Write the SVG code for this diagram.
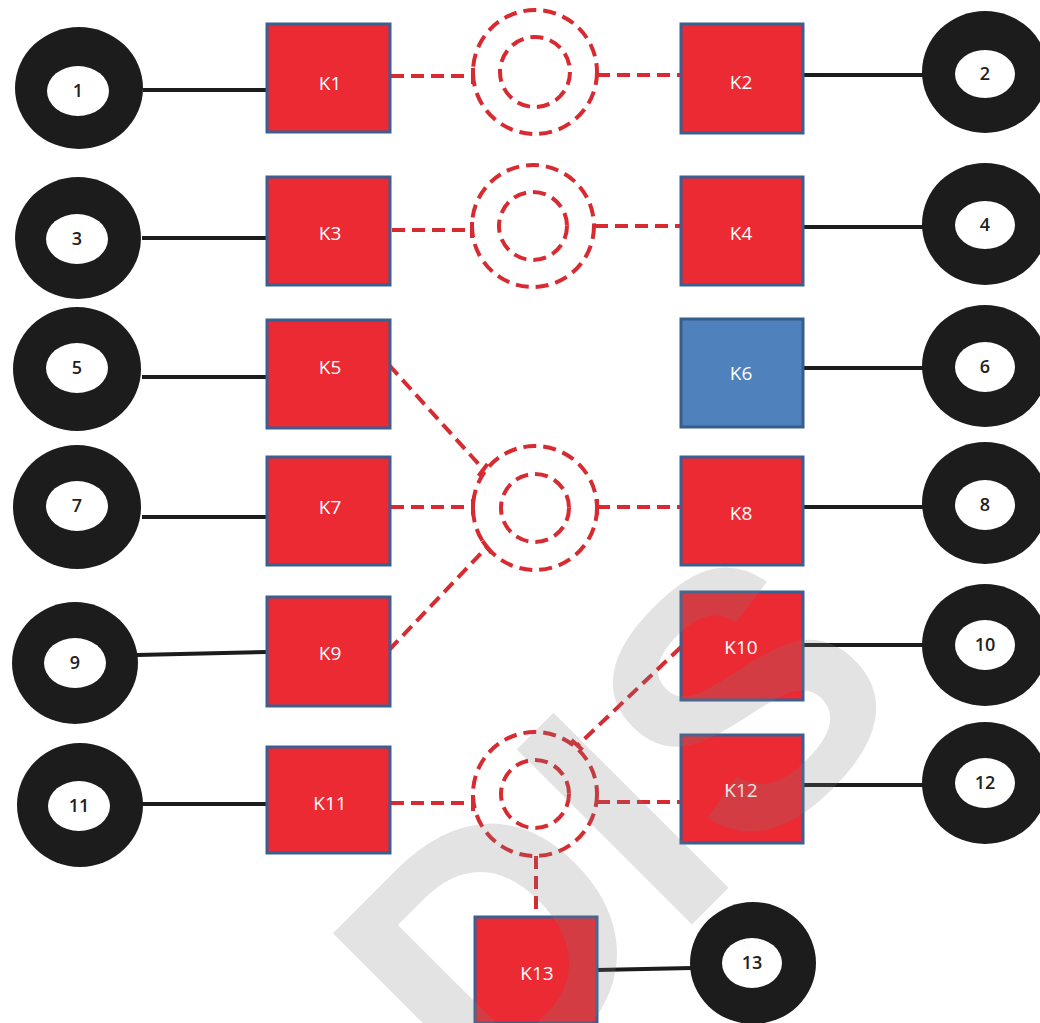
<svg xmlns="http://www.w3.org/2000/svg" width="1040" height="1023" viewBox="0 0 1040 1023">
<style>
.box{fill:#ec2a33;stroke:#3a5f92;stroke-width:3}
.blue{fill:#4f81bd;stroke:#385d8a;stroke-width:3}
.kl{font-family:"Open Sans","Liberation Sans",sans-serif;font-size:19px;fill:#fff;text-anchor:middle}
.ring{fill:#1c1c1c}
.hole{fill:#fff}
.nl{font-family:"Open Sans","Liberation Sans",sans-serif;font-size:18px;font-weight:600;fill:#222;text-anchor:middle}
.solid{stroke:#1c1c1c;stroke-width:4;fill:none}
.dash{stroke:#d82a31;stroke-width:4;stroke-dasharray:13 7;fill:none}
.tick{stroke:#d82a31;stroke-width:4;fill:none}
.wm{font-family:"Liberation Sans",sans-serif;font-weight:bold;font-size:360px;fill:#808080;fill-opacity:0.22;text-anchor:middle}
</style>
<rect width="1040" height="1023" fill="#fff"/>
<g id="connectors">
<line class="solid" x1="143" y1="90" x2="267" y2="90"/>
<line class="solid" x1="142" y1="238" x2="267" y2="238"/>
<line class="solid" x1="142" y1="377" x2="267" y2="377"/>
<line class="solid" x1="142" y1="517" x2="267" y2="517"/>
<line class="solid" x1="137" y1="655" x2="267" y2="652"/>
<line class="solid" x1="142" y1="804" x2="267" y2="804"/>
<line class="solid" x1="803" y1="75" x2="924" y2="75"/>
<line class="solid" x1="803" y1="227" x2="924" y2="227"/>
<line class="solid" x1="803" y1="368" x2="924" y2="368"/>
<line class="solid" x1="803" y1="507" x2="924" y2="507"/>
<line class="solid" x1="803" y1="645" x2="924" y2="645"/>
<line class="solid" x1="803" y1="785" x2="924" y2="785"/>
<line class="solid" x1="597" y1="970" x2="692" y2="968"/>
<line class="dash" x1="391" y1="76" x2="473" y2="76"/>
<line class="dash" x1="597" y1="75" x2="681" y2="75"/>
<line class="dash" x1="392" y1="230" x2="471" y2="230"/>
<line class="dash" x1="595" y1="226" x2="680" y2="226"/>
<line class="dash" x1="389" y1="365" x2="484" y2="470"/>
<line class="dash" x1="391" y1="507" x2="473" y2="507"/>
<line class="dash" x1="389" y1="650" x2="486" y2="548"/>
<line class="dash" x1="597" y1="507" x2="681" y2="507"/>
<line class="dash" x1="681" y1="647" x2="577" y2="746"/>
<line class="dash" x1="391" y1="803" x2="473" y2="803"/>
<line class="dash" x1="597" y1="802" x2="681" y2="802"/>
<line class="dash" x1="536" y1="856" x2="536" y2="916"/>
<line class="tick" x1="473" y1="68" x2="473" y2="84"/>
<line class="tick" x1="472" y1="222" x2="472" y2="238"/>
<line class="tick" x1="473" y1="499" x2="473" y2="515"/>
<line class="tick" x1="597" y1="499" x2="597" y2="515"/>
<line class="tick" x1="487.5" y1="464" x2="478.5" y2="476"/>
<line class="tick" x1="491.5" y1="553" x2="482.5" y2="541"/>
<line class="tick" x1="473" y1="795" x2="473" y2="811"/>
<line class="tick" x1="582.5" y1="750" x2="571.5" y2="740"/>
</g>
<g id="hub1"><circle class="dash" cx="535" cy="72" r="62"/><circle class="dash" cx="535" cy="72" r="35"/></g>
<g id="hub2"><circle class="dash" cx="533" cy="226" r="61"/><circle class="dash" cx="533" cy="226" r="34"/></g>
<g id="hub3"><circle class="dash" cx="535" cy="508" r="62"/><circle class="dash" cx="535" cy="508" r="34"/></g>
<g id="hub4"><circle class="dash" cx="535" cy="794" r="62"/><circle class="dash" cx="535" cy="794" r="34"/></g>
<g id="K1"><rect class="box" x="267" y="24" width="123" height="108"/><text class="kl" x="330" y="90">K1</text></g>
<g id="K3"><rect class="box" x="267" y="177" width="123" height="108"/><text class="kl" x="330" y="240">K3</text></g>
<g id="K5"><rect class="box" x="267" y="320" width="123" height="108"/><text class="kl" x="330" y="374">K5</text></g>
<g id="K7"><rect class="box" x="267" y="457" width="123" height="108"/><text class="kl" x="330" y="514">K7</text></g>
<g id="K9"><rect class="box" x="267" y="597" width="123" height="109"/><text class="kl" x="330" y="660">K9</text></g>
<g id="K11"><rect class="box" x="267" y="747" width="123" height="106"/><text class="kl" x="330" y="810">K11</text></g>
<g id="K2"><rect class="box" x="681" y="24" width="122" height="109"/><text class="kl" x="741" y="89">K2</text></g>
<g id="K4"><rect class="box" x="681" y="177" width="122" height="108"/><text class="kl" x="741" y="240">K4</text></g>
<g id="K6"><rect class="blue" x="681" y="319" width="122" height="108"/><text class="kl" x="741" y="380">K6</text></g>
<g id="K8"><rect class="box" x="681" y="457" width="122" height="108"/><text class="kl" x="741" y="520">K8</text></g>
<g id="K10"><rect class="box" x="681" y="592" width="122" height="108"/><text class="kl" x="741" y="654">K10</text></g>
<g id="K12"><rect class="box" x="681" y="735" width="122" height="108"/><text class="kl" x="741" y="797">K12</text></g>
<g id="K13"><rect class="box" x="475" y="917" width="122" height="106"/><text class="kl" x="537" y="980">K13</text></g>
<g id="n1"><ellipse class="ring" cx="79" cy="88" rx="64" ry="61"/><ellipse class="hole" cx="78" cy="91" rx="31" ry="25"/><text class="nl" x="78" y="97">1</text></g>
<g id="n3"><ellipse class="ring" cx="78" cy="238" rx="63" ry="61"/><ellipse class="hole" cx="77" cy="239" rx="31" ry="25"/><text class="nl" x="77" y="245">3</text></g>
<g id="n5"><ellipse class="ring" cx="77" cy="369" rx="64" ry="62"/><ellipse class="hole" cx="77" cy="368" rx="31" ry="25"/><text class="nl" x="77" y="374">5</text></g>
<g id="n7"><ellipse class="ring" cx="77" cy="507" rx="64" ry="62"/><ellipse class="hole" cx="77" cy="506" rx="31" ry="25"/><text class="nl" x="77" y="512">7</text></g>
<g id="n9"><ellipse class="ring" cx="75" cy="663" rx="63" ry="61"/><ellipse class="hole" cx="75" cy="663" rx="31" ry="25"/><text class="nl" x="75" y="669">9</text></g>
<g id="n11"><ellipse class="ring" cx="80" cy="805" rx="63" ry="62"/><ellipse class="hole" cx="79" cy="806" rx="31" ry="25"/><text class="nl" x="79" y="812">11</text></g>
<g id="n2"><ellipse class="ring" cx="985" cy="72" rx="63" ry="61"/><ellipse class="hole" cx="985" cy="74" rx="30" ry="24"/><text class="nl" x="985" y="80">2</text></g>
<g id="n4"><ellipse class="ring" cx="985" cy="224" rx="63" ry="61"/><ellipse class="hole" cx="985" cy="225" rx="30" ry="24"/><text class="nl" x="985" y="231">4</text></g>
<g id="n6"><ellipse class="ring" cx="985" cy="366" rx="63" ry="61"/><ellipse class="hole" cx="985" cy="367" rx="30" ry="25"/><text class="nl" x="985" y="373">6</text></g>
<g id="n8"><ellipse class="ring" cx="985" cy="503" rx="63" ry="61"/><ellipse class="hole" cx="985" cy="505" rx="30" ry="25"/><text class="nl" x="985" y="511">8</text></g>
<g id="n10"><ellipse class="ring" cx="985" cy="645" rx="63" ry="61"/><ellipse class="hole" cx="985" cy="645" rx="30" ry="25"/><text class="nl" x="985" y="651">10</text></g>
<g id="n12"><ellipse class="ring" cx="985" cy="783" rx="63" ry="61"/><ellipse class="hole" cx="985" cy="783" rx="30" ry="25"/><text class="nl" x="985" y="789">12</text></g>
<g id="n13"><ellipse class="ring" cx="753" cy="963" rx="63" ry="61"/><ellipse class="hole" cx="752" cy="963" rx="30" ry="25"/><text class="nl" x="752" y="969">13</text></g>
<text class="wm" transform="translate(612,822) rotate(-45)" x="0" y="129">DIS</text>
</svg>
